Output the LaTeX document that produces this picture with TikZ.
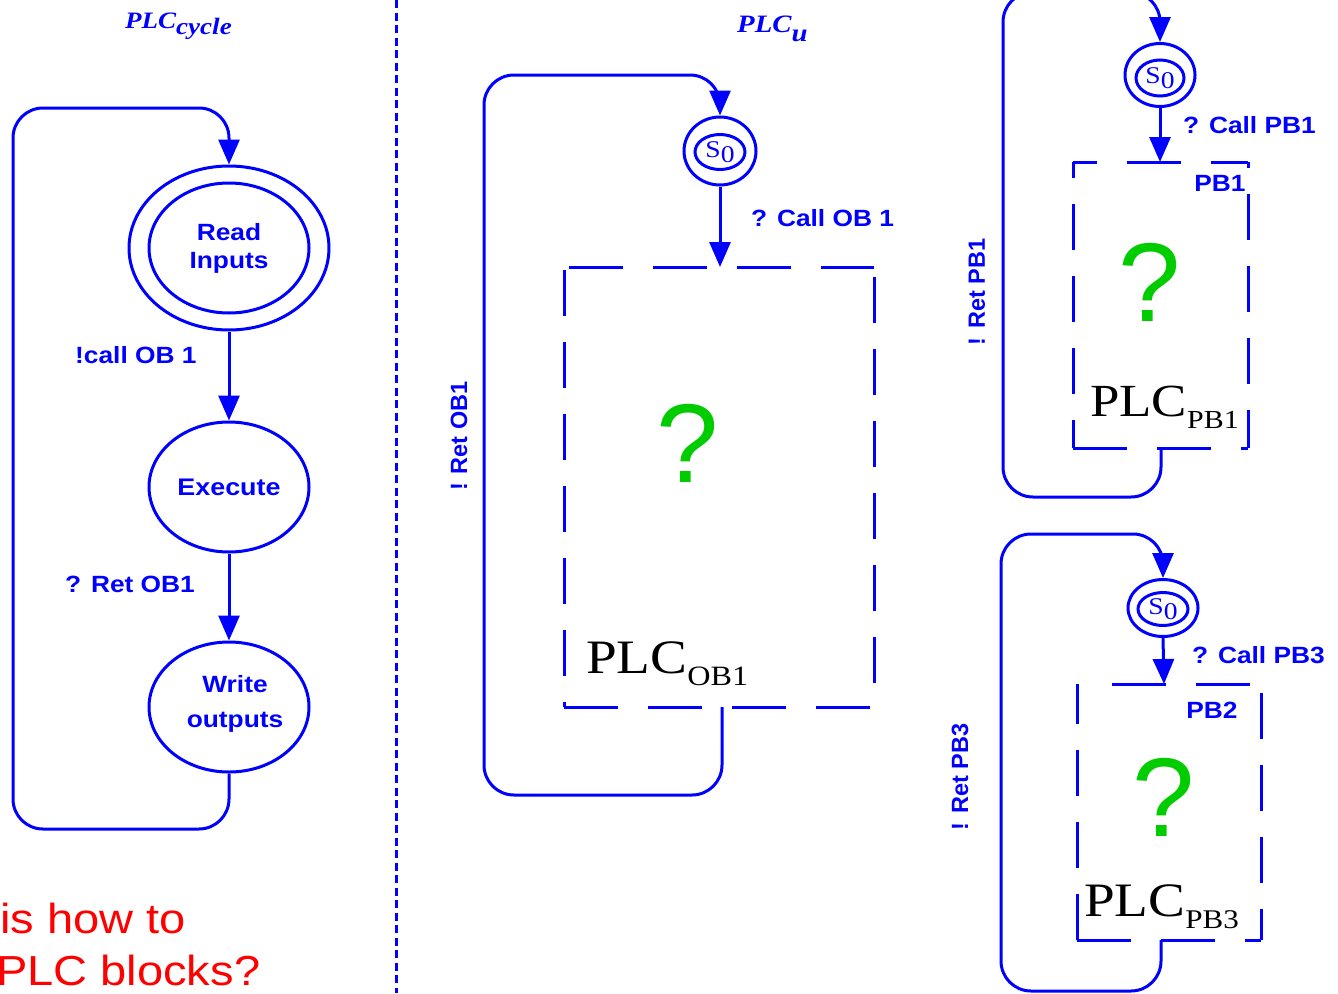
\documentclass[tikz,border=0pt]{standalone}
\usepackage{fontspec}
\setmainfont[FakeStretch=1.15]{Liberation Serif}
\setsansfont[FakeStretch=1.12]{Liberation Sans}
\newfontfamily\rotsans{Liberation Sans}
\usetikzlibrary{arrows.meta,shapes.geometric}
\definecolor{pblue}{RGB}{0,0,255}
\definecolor{pgreen}{RGB}{0,204,0}
\definecolor{pred}{RGB}{255,0,0}
\begin{document}
\begin{tikzpicture}[x=1pt,y=-1pt,
  tip/.style={-{Triangle[length=25pt,width=21pt]}},
  flow/.style={draw=pblue, line width=3pt, tip},
  loopline/.style={draw=pblue, line width=3pt, rounded corners=30pt, tip},
  state/.style={ellipse, draw=pblue, line width=3pt, inner sep=0pt},
  lbl/.style={text=pblue, font=\sffamily\bfseries\fontsize{23.5}{27}\selectfont, inner sep=0pt},
  rlbl/.style={text=pblue, font=\rotsans\bfseries\fontsize{23.5}{27}\selectfont, inner sep=0pt, rotate=90},
  hbox/.style={draw=pblue, line width=3pt, dash pattern=on 54pt off 30pt},
  vbox/.style={draw=pblue, line width=3pt, dash pattern=on 46pt off 26pt},
  qmark/.style={text=pgreen, font=\rotsans\fontsize{112}{112}\selectfont, inner sep=0pt},
  plc/.style={text=black, inner sep=0pt, anchor=base west},
  titletext/.style={text=pblue, inner sep=0pt, anchor=base west, font=\rmfamily\bfseries\itshape},
  s0txt/.style={text=pblue, font=\rmfamily\fontsize{24}{26}\selectfont},
]
\useasboundingbox (0,0) rectangle (1338,993);

% divider
\draw[pblue, line width=3pt, dash pattern=on 8pt off 4.5pt] (396,0) -- (396,993);

% ---------- left: PLC cycle ----------
\node[titletext] (tcycle) at (125,28) {\fontsize{23.5}{25}\selectfont PLC\raisebox{-6pt}{cycle}};
\node[state, minimum width=200pt, minimum height=164pt] (read) at (229,248) {};
\node[state, minimum width=160pt, minimum height=130pt, align=center,
      text=pblue, font=\sffamily\bfseries\fontsize{23.5}{28}\selectfont] (readin) at (229,248) {Read\\Inputs};
\node[state, minimum width=160pt, minimum height=130pt, text=pblue,
      font=\sffamily\bfseries\fontsize{24}{27}\selectfont] (exec) at (229,487) {Execute};
\node[state, minimum width=160pt, minimum height=130pt] (write) at (229,707) {};
\node[inner sep=0pt, align=center, text=pblue,
      font=\sffamily\bfseries\fontsize{23.5}{35}\selectfont] (writetxt) at (235,703.5) {Write\\outputs};

\draw[flow] (read.south) -- (exec.north);
\draw[flow] (exec.south) -- (write.north);
\node[lbl, anchor=west] (lcall) at (75,355) {!call OB 1};
\node[lbl, anchor=west] (lret) at (65,584) {? Ret OB1};
\coordinate (lc1) at (13,829);
\coordinate (lc2) at (13,108);
\draw[loopline] (write.south) |- (lc1) -- (lc2) -| (read.north);

% red text
\node[inner sep=0pt, anchor=base west, text=pred, font=\sffamily\fontsize{42}{46}\selectfont] (q1) at (0,933) {is how to};
\node[inner sep=0pt, anchor=base west, text=pred, font=\sffamily\fontsize{42}{46}\selectfont] (q2) at (-4,985) {PLC blocks?};

% ---------- middle: PLC_u ----------
\node[titletext] (tu) at (737,32) {\fontsize{25}{27}\selectfont PLC\raisebox{-9pt}{u}};
\node[state, minimum width=72pt, minimum height=68pt] (s0u) at (720,151) {};
\node[state, minimum width=50pt, minimum height=35pt, s0txt] (s0uin) at (720,152) {S\raisebox{-5pt}{0}};
\coordinate (obin) at (720,267);
\coordinate (obout) at (722,707);
\draw[flow] (s0u.south) -- (obin);
\node[lbl, anchor=west] (callob) at (751,218) {? Call OB 1};
\draw[hbox] (569,267) -- (874,267);
\draw[hbox] (564,707) -- (874,707);
\draw[vbox, dash phase=41pt] (564,707) -- (564,270);
\draw[vbox, dash phase=48pt] (874,707) -- (874,270);
\node[qmark] (qob) at (688,443) {?};
\node[plc] (plcob) at (586,673) {\fontsize{48}{50}\selectfont PLC\raisebox{-12pt}{\fontsize{28}{30}\selectfont OB1}};
\coordinate (mc1) at (484,795);
\coordinate (mc2) at (484,75);
\draw[loopline] (obout) |- (mc1) -- (mc2) -| (s0u.north);
\node[rlbl] (retob) at (459,436) {! Ret OB1};

% ---------- right top: PB1 ----------
\node[state, minimum width=70pt, minimum height=63pt] (s01) at (1160,75) {};
\node[state, minimum width=48pt, minimum height=36pt, s0txt] (s01in) at (1160,78) {S\raisebox{-5pt}{0}};
\coordinate (pbin1) at (1160,162);
\coordinate (pbout1) at (1161,448);
\draw[flow] (s01.south) -- (pbin1);
\node[lbl, anchor=west] (callpb1) at (1183,125) {? Call PB1};
\draw[hbox, dash phase=30pt] (1073,162) -- (1248,162);
\draw[hbox] (1073,448) -- (1248,448);
\draw[vbox, dash phase=18pt] (1073,448) -- (1073,162);
\draw[vbox, dash phase=8pt] (1248,448) -- (1248,162);
\node[lbl] (pb1) at (1220,183) {PB1};
\node[qmark] (qpb1) at (1150,282) {?};
\node[plc] (plcpb1) at (1090,416) {\fontsize{46}{48}\selectfont PLC\raisebox{-12pt}{\fontsize{26}{28}\selectfont PB1}};
\coordinate (rc1) at (1003,497);
\coordinate (rc2) at (1003,-8);
\draw[loopline] (pbout1) |- (rc1) -- (rc2) -| (s01.north);
\node[rlbl] (retpb1) at (977,292) {! Ret PB1};

% ---------- right bottom: PB3 ----------
\node[state, minimum width=70pt, minimum height=57pt] (s03) at (1163,608) {};
\node[state, minimum width=50pt, minimum height=33pt, s0txt] (s03in) at (1163,609) {S\raisebox{-5pt}{0}};
\coordinate (pbin3) at (1164,684);
\coordinate (pbout3) at (1161,940);
\draw[flow] (s03.south) -- (pbin3);
\node[lbl, anchor=west] (callpb3) at (1192,655) {? Call PB3};
\draw[hbox, dash phase=54pt] (1082,684) -- (1261,684);
\draw[hbox] (1077,940) -- (1261,940);
\draw[vbox] (1077,940) -- (1077,684);
\draw[vbox, dash phase=15pt] (1261,940) -- (1261,684);
\node[lbl] (pb2) at (1212,710) {PB2};
\node[qmark] (qpb3) at (1164,797) {?};
\node[plc] (plcpb3) at (1084,916) {\fontsize{48}{50}\selectfont PLC\raisebox{-12pt}{\fontsize{27}{29}\selectfont PB3}};
\coordinate (rd1) at (1001,991);
\coordinate (rd2) at (1001,534);
\draw[loopline] (pbout3) |- (rd1) -- (rd2) -| (s03.north);
\node[rlbl] (retpb3) at (960,777) {! Ret PB3};
\end{tikzpicture}
\end{document}
